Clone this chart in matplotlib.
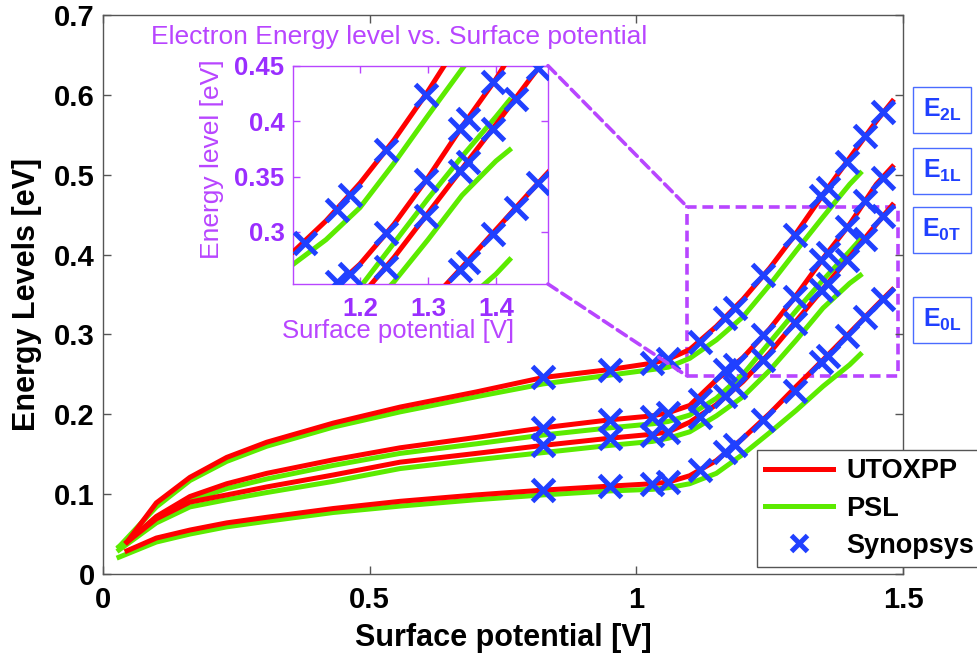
import matplotlib.pyplot as plt
from matplotlib.patches import Rectangle, ConnectionPatch
from matplotlib.lines import Line2D

plt.rcParams['font.family'] = ['Liberation Sans', 'DejaVu Sans']
plt.rcParams['mathtext.fontset'] = 'custom'
plt.rcParams['mathtext.rm'] = 'Liberation Sans'
plt.rcParams['mathtext.bf'] = 'Liberation Sans:bold'

# UTOXPP (red) curves
x_utox = [0.045, 0.1, 0.163, 0.232, 0.307, 0.432, 0.557, 0.7, 0.825, 0.95, 1.03,
          1.06, 1.1, 1.15, 1.2, 1.25, 1.3, 1.35, 1.4, 1.45, 1.48]
utox_e2l = [0.040, 0.089, 0.121, 0.146, 0.165, 0.189, 0.209, 0.228, 0.246, 0.256, 0.264,
            0.269, 0.281, 0.310, 0.344, 0.383, 0.427, 0.475, 0.521, 0.567, 0.592]
utox_e1l = [0.040, 0.072, 0.097, 0.113, 0.126, 0.143, 0.158, 0.171, 0.183, 0.193, 0.198,
            0.202, 0.211, 0.243, 0.271, 0.307, 0.349, 0.395, 0.438, 0.488, 0.510]
utox_e0t = [0.040, 0.069, 0.090, 0.099, 0.109, 0.124, 0.140, 0.151, 0.161, 0.170, 0.175,
            0.178, 0.190, 0.212, 0.241, 0.277, 0.317, 0.357, 0.397, 0.438, 0.462]
utox_e0l = [0.029, 0.045, 0.055, 0.064, 0.071, 0.082, 0.091, 0.099, 0.105, 0.110, 0.113,
            0.115, 0.123, 0.142, 0.170, 0.201, 0.235, 0.268, 0.302, 0.336, 0.356]

# PSL (green) curves
x_psl = [0.03, 0.1, 0.163, 0.232, 0.307, 0.432, 0.557, 0.7, 0.825, 0.95, 1.03,
         1.06, 1.1, 1.15, 1.2, 1.25, 1.3, 1.35, 1.4, 1.42]
psl_e2l = [0.034, 0.084, 0.117, 0.141, 0.160, 0.184, 0.203, 0.222, 0.238, 0.249, 0.256,
           0.259, 0.270, 0.293, 0.322, 0.362, 0.405, 0.447, 0.488, 0.502]
psl_e1l = [0.034, 0.068, 0.092, 0.107, 0.119, 0.136, 0.151, 0.163, 0.174, 0.183, 0.188,
           0.191, 0.199, 0.220, 0.250, 0.290, 0.330, 0.368, 0.404, 0.419]
psl_e0t = [0.030, 0.064, 0.084, 0.093, 0.102, 0.116, 0.132, 0.143, 0.152, 0.161, 0.166,
           0.170, 0.178, 0.198, 0.222, 0.255, 0.293, 0.333, 0.364, 0.374]
psl_e0l = [0.021, 0.040, 0.050, 0.059, 0.066, 0.077, 0.085, 0.093, 0.099, 0.104, 0.106,
           0.108, 0.113, 0.126, 0.150, 0.177, 0.205, 0.235, 0.262, 0.275]

# Synopsys (blue x) points
x_syn = [0.825, 0.95, 1.03, 1.06, 1.119, 1.166, 1.185, 1.238, 1.297, 1.347, 1.359,
         1.395, 1.429, 1.462]
syn_e2l = [0.247, 0.256, 0.264, 0.269, 0.290, 0.320, 0.333, 0.374, 0.424, 0.473, 0.483,
           0.516, 0.549, 0.579]
syn_e1l = [0.183, 0.193, 0.197, 0.201, 0.218, 0.255, 0.262, 0.299, 0.347, 0.393, 0.402,
           0.435, 0.467, 0.496]
syn_e0t = [0.161, 0.170, 0.174, 0.178, 0.196, 0.223, 0.234, 0.268, 0.314, 0.355, 0.363,
           0.393, 0.420, 0.448]
syn_e0l = [0.105, 0.110, 0.113, 0.115, 0.130, 0.153, 0.161, 0.193, 0.229, 0.266, 0.273,
           0.2985, 0.322, 0.344]

level_names = [r'$\mathbf{E_{2L}}$', r'$\mathbf{E_{1L}}$', r'$\mathbf{E_{0T}}$', r'$\mathbf{E_{0L}}$']

RED = '#FF0000'
GREEN = '#5CEB00'
BLUE = '#2040FF'
PURPLE = '#B845FF'
PURPLE_TICK = '#9A2EFF'

utox = [utox_e2l, utox_e1l, utox_e0t, utox_e0l]
psl = [psl_e2l, psl_e1l, psl_e0t, psl_e0l]
syn = [syn_e2l, syn_e1l, syn_e0t, syn_e0l]


def draw_curves(a):
    for yg in psl:
        a.plot(x_psl, yg, color=GREEN, lw=3.6, zorder=2)
    for yr in utox:
        a.plot(x_utox, yr, color=RED, lw=3.6, zorder=3)
    for ys in syn:
        a.plot(x_syn, ys, ls='none', marker='x', ms=16, mew=3.6, color=BLUE, zorder=4)


fig = plt.figure(figsize=(9.78, 6.55), dpi=100)
ax = fig.add_axes([0.1053, 0.1237, 0.8180, 0.8534])
draw_curves(ax)

ax.set_xlim(0, 1.5)
ax.set_ylim(0, 0.7)
ax.set_xticks([0, 0.5, 1, 1.5])
ax.set_xticklabels(['0', '0.5', '1', '1.5'], fontweight='bold', fontsize=21)
ax.set_yticks([0, 0.1, 0.2, 0.3, 0.4, 0.5, 0.6, 0.7])
ax.set_yticklabels(['0', '0.1', '0.2', '0.3', '0.4', '0.5', '0.6', '0.7'],
                   fontweight='bold', fontsize=21)
ax.tick_params(direction='in', length=6, width=1, color='#555555', top=True, right=True)
ax.tick_params(axis='x', pad=9)
ax.tick_params(axis='y', pad=6)
for s in ax.spines.values():
    s.set_color('#555555')
    s.set_linewidth(1)
ax.set_xlabel('Surface potential [V]', fontsize=22, fontweight='bold')
ax.set_ylabel('Energy Levels [eV]', fontsize=22, fontweight='bold')
ax.xaxis.set_label_coords(0.5, -0.087)
ax.yaxis.set_label_coords(-0.076, 0.5)

# zoom region in main axes
ax.add_patch(Rectangle((1.095, 0.248), 0.395, 0.212, fill=False, ls=(0, (3, 1.6)),
                       lw=2.6, ec=PURPLE, zorder=1))

# legend
handles = [Line2D([], [], color=RED, lw=3.6),
           Line2D([], [], color=GREEN, lw=3.6),
           Line2D([], [], ls='none', marker='x', ms=12, mew=3.6, color=BLUE)]
leg = ax.legend(handles, ['UTOXPP', 'PSL', 'Synopsys'], loc='upper left',
                bbox_to_anchor=(757 / 978, 1 - 450 / 655), bbox_transform=fig.transFigure,
                prop={'weight': 'bold', 'size': 19.5}, fancybox=False, framealpha=1,
                edgecolor='#555555', handlelength=2.5, borderpad=0.3, labelspacing=0.42,
                handletextpad=0.5, borderaxespad=0)
leg.get_frame().set_linewidth(1)

# level labels on the right
label_y = [110, 171, 230, 320]
for name, py in zip(level_names, label_y):
    fig.text(942 / 978, 1 - py / 655, name, ha='center', va='center', fontsize=18,
             color=BLUE, bbox=dict(boxstyle='square,pad=0.38', fc='white', ec='#4A6BFF', lw=1))

# inset
ax_in = fig.add_axes([0.2993, 0.5664, 0.2610, 0.3333])
draw_curves(ax_in)
ax_in.set_xlim(1.101, 1.4765)
ax_in.set_ylim(0.253, 0.45)
ax_in.set_xticks([1.2, 1.3, 1.4])
ax_in.set_xticklabels(['1.2', '1.3', '1.4'], fontweight='bold', fontsize=18.5, color=PURPLE_TICK)
ax_in.set_yticks([0.3, 0.35, 0.4, 0.45])
ax_in.set_yticklabels(['0.3', '0.35', '0.4', '0.45'], fontweight='bold', fontsize=18.5,
                      color=PURPLE_TICK)
ax_in.tick_params(direction='in', length=5, width=1, color=PURPLE, top=True, right=True)
ax_in.tick_params(axis='x', pad=9)
ax_in.tick_params(axis='y', pad=6)
for s in ax_in.spines.values():
    s.set_color(PURPLE)
    s.set_linewidth(1)
ax_in.set_xlabel('Surface potential [V]', fontsize=18.5, color=PURPLE)
ax_in.set_ylabel('Energy level [eV]', fontsize=19, color=PURPLE)
ax_in.xaxis.set_label_coords(0.412, -0.16)
ax_in.yaxis.set_label_coords(-0.27, 0.573)
fig.text(399 / 978, 1 - 37 / 655, 'Electron Energy level vs. Surface potential',
         ha='center', va='center', fontsize=19, color=PURPLE)

# connectors from inset to zoom rectangle
for corner, target in [((1, 1), (1.095, 0.46)), ((1, 0), (1.095, 0.248))]:
    con = ConnectionPatch(xyA=corner, coordsA=ax_in.transAxes, xyB=target, coordsB=ax.transData,
                          ls=(0, (3, 1.6)), lw=2.6, color=PURPLE)
    fig.add_artist(con)

fig.savefig('out.png', dpi=100)
